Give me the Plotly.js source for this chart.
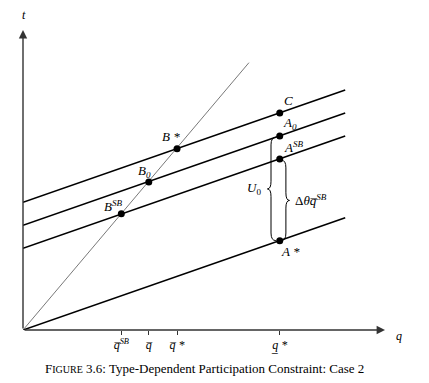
<!DOCTYPE html>
<html><head><meta charset="utf-8">
<script src="https://cdn.plot.ly/plotly-3.0.1.min.js"></script>
<style>body{margin:0;background:#fff}#c{width:429px;height:383px}</style>
</head><body><div id="c"></div>
<script>
// Data (arbitrary units)
const lineQ = [0, 12.55];
const lineC = [5.0, 9.4];
const lineA0 = [4.1, 8.5];
const lineASB = [3.2, 7.6];
const lineAstar = [0, 4.4];
const diagQ = [0, 8.8];
const diagT = [0, 10.47];
const pointLabels = ['B *', 'B<sub>0</sub>', 'B<sup>SB</sup>', 'C', 'A<sub>0</sub>', 'A<sup>SB</sup>', 'A *'];
const pointQ = [6.0, 4.9, 3.83, 10, 10, 10, 10];
const pointT = [7.1, 5.8, 4.55, 8.5, 7.6, 6.7, 3.5];
const labelShiftX = [-6, -4, -8, 9, 10, 14, 11];
const labelShiftY = [12, 10, 8, 12, 12, 12, -11];
const qTicks = [3.83, 4.9, 6.0, 10];
const qTickText = ['<i>q\u0305</i><sup><i>SB</i></sup>', '<i>q\u0305</i>', '<i>q\u0305 *</i>', '<i>q\u0332 *</i>'];
const axisQmax = 14.1, axisTmax = 11.75;

const serif = '"Liberation Serif", serif';
const traces = [];
[lineC, lineA0, lineASB, lineAstar].forEach(l => traces.push({
  x: lineQ, y: l, mode: 'lines', line: {color: '#000', width: 1.6}, hoverinfo: 'skip'
}));
traces.push({x: diagQ, y: diagT, mode: 'lines', line: {color: '#555', width: 0.8}, hoverinfo: 'skip'});
traces.push({x: pointQ, y: pointT, mode: 'markers', marker: {color: '#000', size: 7}, hoverinfo: 'skip'});

const annotations = pointLabels.map((s, i) => ({
  x: pointQ[i], y: pointT[i], xref: 'x', yref: 'y', text: '<i>' + s + '</i>', showarrow: false,
  xshift: labelShiftX[i], yshift: labelShiftY[i], font: {family: serif, size: 13, color: '#000'}
}));
// axes with arrows
annotations.push({x: axisQmax, y: 0, ax: 0, ay: 0, xref: 'x', yref: 'y', axref: 'x', ayref: 'y', text: '',
  showarrow: true, arrowhead: 2, arrowsize: 1.2, arrowwidth: 1.4, arrowcolor: '#333'});
annotations.push({x: 0, y: axisTmax, ax: 0, ay: 0, xref: 'x', yref: 'y', axref: 'x', ayref: 'y', text: '',
  showarrow: true, arrowhead: 2, arrowsize: 1.2, arrowwidth: 1.4, arrowcolor: '#333'});
annotations.push({x: 0, y: axisTmax, xref: 'x', yref: 'y', text: '<i>t</i>', showarrow: false, yshift: 15, xshift: 1,
  font: {family: serif, size: 12, color: '#000'}});
annotations.push({x: axisQmax, y: 0, xref: 'x', yref: 'y', text: '<i>q</i>', showarrow: false, xshift: 14, yshift: -6,
  font: {family: serif, size: 12, color: '#000'}});

// braces
const tA0 = pointT[4], tASB = pointT[5], tAs = pointT[6];
function brace(xBody, xTip, xEnd, yTop, yBot) {
  const d = 0.3, m = (yTop + yBot) / 2;
  return `M ${xEnd},${yTop} Q ${xBody},${yTop} ${xBody},${yTop - d} L ${xBody},${m + d} Q ${xBody},${m} ${xTip},${m} ` +
         `Q ${xBody},${m} ${xBody},${m - d} L ${xBody},${yBot + d} Q ${xBody},${yBot} ${xEnd},${yBot}`;
}
const shapes = [
  {type: 'path', xref: 'x', yref: 'y', path: brace(9.66, 9.52, 9.85, tA0 - 0.05, tAs), line: {color: '#000', width: 1}},
  {type: 'path', xref: 'x', yref: 'y', path: brace(10.24, 10.38, 10.07, tASB - 0.05, tAs), line: {color: '#000', width: 1}}
];
annotations.push({x: 9.0, y: (tA0 + tAs) / 2, xref: 'x', yref: 'y', text: '<i>U</i><sub>0</sub>', showarrow: false,
  font: {family: serif, size: 13, color: '#000'}});
annotations.push({x: 10.5, y: (tASB + tAs) / 2, xref: 'x', yref: 'y', xanchor: 'left', text: '\u0394<i>\u03b8q\u0305</i><sup><i>SB</i></sup>', showarrow: false,
  font: {family: serif, size: 13, color: '#000'}});
// caption
annotations.push({x: 0.5, y: 0, xref: 'paper', yref: 'paper', yshift: -48, text:
  'F<span style="font-size:10px">IGURE</span> 3.6: Type-Dependent Participation Constraint: Case 2', showarrow: false,
  xanchor: 'center', font: {family: serif, size: 13, color: '#000'}});

const layout = {
  width: 429, height: 383, margin: {l: 23, r: 44, t: 30, b: 53},
  paper_bgcolor: '#fff', plot_bgcolor: '#fff', showlegend: false,
  xaxis: {range: [0, axisQmax], showgrid: false, zeroline: false, showline: false, tickvals: qTicks, ticktext: qTickText,
    ticks: 'outside', ticklen: 4, tickcolor: '#333', tickfont: {family: serif, size: 12, color: '#000'}, fixedrange: true},
  yaxis: {range: [0, axisTmax], showgrid: false, zeroline: false, showline: false, showticklabels: false, ticks: '', fixedrange: true},
  annotations: annotations, shapes: shapes
};
Plotly.newPlot('c', traces, layout, {displayModeBar: false, staticPlot: true});
</script></body></html>
